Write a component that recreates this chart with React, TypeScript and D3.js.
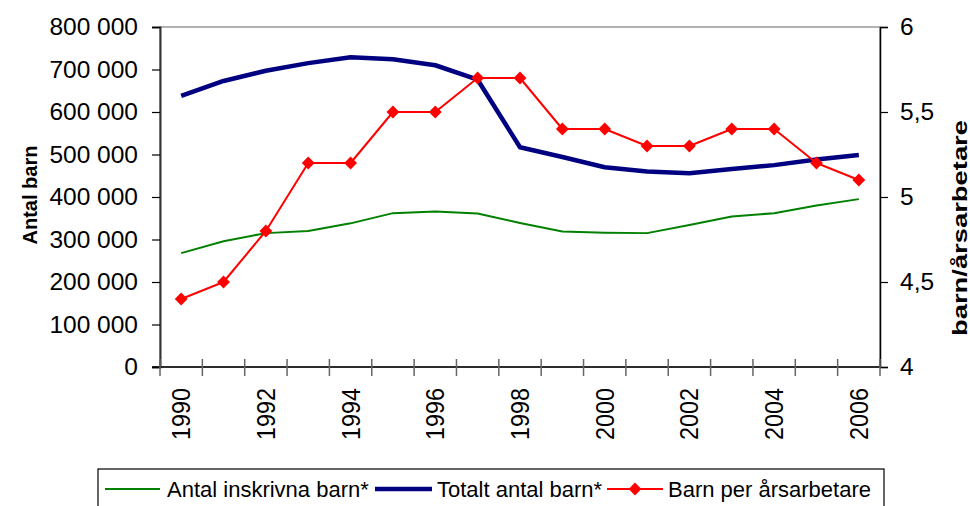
import * as d3 from 'd3';
import { useEffect, useRef } from 'react';

const years = [1990, 1991, 1992, 1993, 1994, 1995, 1996, 1997, 1998, 1999, 2000, 2001, 2002, 2003, 2004, 2005, 2006];
const inskrivna = [268000, 296000, 315000, 320000, 338000, 362000, 366000, 361000, 339000, 319000, 316000, 315000, 334000, 354000, 362000, 380000, 395000];
const totalt = [638000, 673000, 697000, 715000, 729000, 724000, 710000, 676000, 517000, 494000, 470000, 460000, 456000, 466000, 475000, 488000, 499000];
const perArsarbetare = [4.4, 4.5, 4.8, 5.2, 5.2, 5.5, 5.5, 5.7, 5.7, 5.4, 5.4, 5.3, 5.3, 5.4, 5.4, 5.2, 5.1];
const leftTicks = [0, 100000, 200000, 300000, 400000, 500000, 600000, 700000, 800000];
const rightTicks = [4, 4.5, 5, 5.5, 6];
const legendLabels = ['Antal inskrivna barn*', 'Totalt antal barn*', 'Barn per årsarbetare'];

const W = 970;
const H = 506;
const font = 'Liberation Sans, Arial, sans-serif';

const App = () => {
  const ref = useRef(null);

  useEffect(() => {
    const plot = { left: 160, right: 880, top: 27, bottom: 367 };
    const svg = d3.select(ref.current);
    svg.selectAll('*').remove();

    const x = d3.scaleBand().domain(years.map(String)).range([plot.left, plot.right]).padding(0);
    const cx = (i) => x(String(years[i])) + x.bandwidth() / 2;
    const yL = d3.scaleLinear().domain([0, 800000]).range([plot.bottom, plot.top]);
    const yR = d3.scaleLinear().domain([4, 6]).range([plot.bottom, plot.top]);

    // plot frame (top border shows grey)
    svg
      .append('rect')
      .attr('x', plot.left)
      .attr('y', plot.top)
      .attr('width', plot.right - plot.left)
      .attr('height', plot.bottom - plot.top)
      .attr('fill', 'white')
      .attr('stroke', '#999')
      .attr('stroke-width', 1.5);

    // left axis
    const left = svg.append('g').attr('transform', `translate(${plot.left},0)`);
    left
      .call(d3.axisLeft(yL).tickValues(leftTicks).tickSize(8).tickPadding(14).tickFormat((d) => d3.format(',')(d).replace(/,/g, ' ')))
      .call((g) => g.select('.domain').attr('stroke', '#333').attr('stroke-width', 2))
      .call((g) => g.selectAll('.tick line').attr('stroke', '#000').attr('stroke-width', 1.2))
      .call((g) => g.selectAll('.tick text').attr('font-size', 24.5).attr('font-family', font).attr('fill', '#000'));

    // right axis
    const right = svg.append('g').attr('transform', `translate(${plot.right},0)`);
    right
      .call(d3.axisRight(yR).tickValues(rightTicks).tickSize(8).tickPadding(12).tickFormat((d) => String(d).replace('.', ',')))
      .call((g) => g.select('.domain').attr('stroke', '#000').attr('stroke-width', 1.5))
      .call((g) => g.selectAll('.tick line').attr('stroke', '#000').attr('stroke-width', 1.2))
      .call((g) => g.selectAll('.tick text').attr('font-size', 24.5).attr('font-family', font).attr('fill', '#000'));

    // bottom axis
    svg
      .append('line')
      .attr('x1', plot.left - 8)
      .attr('x2', plot.right)
      .attr('y1', plot.bottom)
      .attr('y2', plot.bottom)
      .attr('stroke', '#000')
      .attr('stroke-width', 1.5);
    const bounds = years.map((d) => x(String(d))).concat([plot.right]);
    svg
      .append('g')
      .selectAll('line')
      .data(bounds)
      .join('line')
      .attr('x1', (d) => d)
      .attr('x2', (d) => d)
      .attr('y1', plot.bottom - 8)
      .attr('y2', plot.bottom + 9)
      .attr('stroke', '#666')
      .attr('stroke-width', 1.5);
    svg
      .append('g')
      .selectAll('text')
      .data(years.filter((d) => d % 2 === 0))
      .join('text')
      .attr('transform', (d) => `translate(${x(String(d)) + x.bandwidth() / 2 + 9},${plot.bottom + 21}) rotate(-90)`)
      .attr('text-anchor', 'end')
      .attr('font-size', 25)
      .attr('font-family', font)
      .attr('textLength', 52)
      .attr('lengthAdjust', 'spacingAndGlyphs')
      .text((d) => d);

    // axis titles
    svg
      .append('text')
      .attr('transform', `translate(37,195) rotate(-90)`)
      .attr('text-anchor', 'middle')
      .attr('font-size', 20)
      .attr('font-weight', 'bold')
      .attr('font-family', font)
      .text('Antal barn');
    svg
      .append('text')
      .attr('transform', `translate(967,228) rotate(-90)`)
      .attr('text-anchor', 'middle')
      .attr('font-size', 20)
      .attr('font-weight', 'bold')
      .attr('font-family', font)
      .attr('textLength', 216)
      .attr('lengthAdjust', 'spacingAndGlyphs')
      .text('barn/årsarbetare');

    // series
    const lineL = d3
      .line()
      .x((d, i) => cx(i))
      .y((d) => yL(d));
    const lineR = d3
      .line()
      .x((d, i) => cx(i))
      .y((d) => yR(d));

    svg.append('path').datum(inskrivna).attr('fill', 'none').attr('stroke', '#008000').attr('stroke-width', 2).attr('stroke-linejoin', 'round').attr('d', lineL);
    svg.append('path').datum(totalt).attr('fill', 'none').attr('stroke', '#000080').attr('stroke-width', 4.5).attr('stroke-linejoin', 'round').attr('d', lineL);
    svg.append('path').datum(perArsarbetare).attr('fill', 'none').attr('stroke', '#ff0000').attr('stroke-width', 2).attr('stroke-linejoin', 'round').attr('d', lineR);

    const diamond = d3.symbol().type(d3.symbolDiamond2).size(105);
    svg
      .append('g')
      .selectAll('path')
      .data(perArsarbetare)
      .join('path')
      .attr('transform', (d, i) => `translate(${cx(i)},${yR(d)})`)
      .attr('d', diamond)
      .attr('fill', '#ff0000');

    // legend
    const lg = svg.append('g');
    lg.append('rect').attr('x', 98).attr('y', 469).attr('width', 786).attr('height', 45).attr('fill', 'white').attr('stroke', '#000').attr('stroke-width', 1.2);
    const items = [
      { x1: 105, x2: 160, tx: 167, color: '#008000', w: 2, marker: false },
      { x1: 375, x2: 432, tx: 437, color: '#000080', w: 4.5, marker: false },
      { x1: 607, x2: 663, tx: 668, color: '#ff0000', w: 2, marker: true },
    ];
    items.forEach((it, i) => {
      lg.append('line').attr('x1', it.x1).attr('x2', it.x2).attr('y1', 489).attr('y2', 489).attr('stroke', it.color).attr('stroke-width', it.w);
      if (it.marker) {
        lg.append('path').attr('transform', `translate(${(it.x1 + it.x2) / 2},489)`).attr('d', diamond).attr('fill', it.color);
      }
      lg.append('text').attr('x', it.tx).attr('y', 497).attr('font-size', 22).attr('font-family', font).text(legendLabels[i]);
    });
  }, []);

  return <svg ref={ref} width={W} height={H} style={{ position: 'absolute', left: 0, top: 0, background: 'white' }} />;
};

export default App;
